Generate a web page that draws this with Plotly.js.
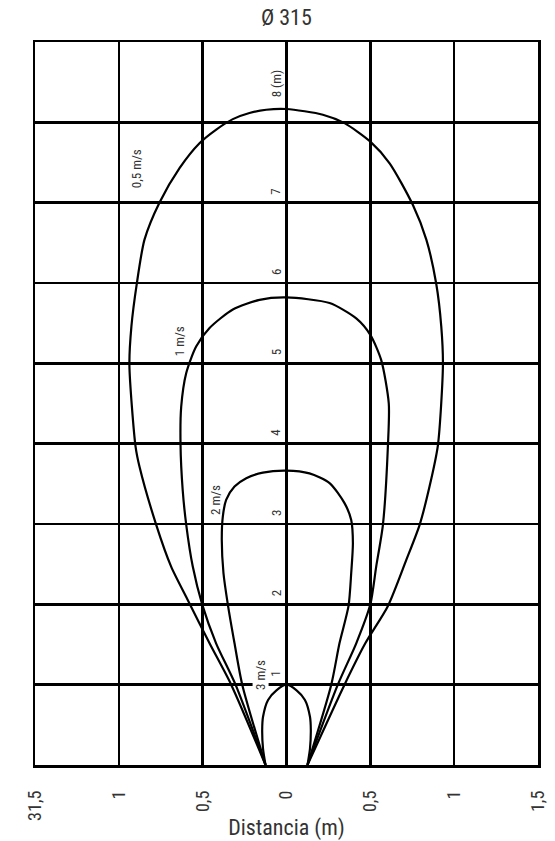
<!DOCTYPE html>
<html>
<head>
<meta charset="utf-8">
<script src="https://cdn.plot.ly/plotly-3.0.1.min.js"></script>
<style>html,body{margin:0;padding:0;background:#fff;}#chart{width:555px;height:841px;}</style>
</head>
<body>
<div id="chart"></div>
<script>
// ---- Data ----
const xTickVals = [-1.5, -1, -0.5, 0, 0.5, 1, 1.5];
const xTickText = ["31,5", "1", "0,5", "0", "0,5", "1", "1,5"];
const yLabelVals = [1, 2, 3, 4, 5, 6, 7, 8];
const yLabelText = ["1", "2", "3", "4", "5", "6", "7", "8 (m)"];

// 0,5 m/s throw contour
const v05X = [-0.125, -0.33, -0.459, -0.589, -0.688, -0.777, -0.877, -0.90, -0.937, -0.925, -0.893, -0.847, -0.758, -0.638, -0.519, -0.419, -0.32, -0.221, -0.121, 0,
              0.217, 0.346, 0.50, 0.615, 0.754, 0.834, 0.893, 0.923, 0.933, 0.903, 0.853, 0.794, 0.714, 0.605, 0.47, 0.346, 0.125];
const v05Y = [0, 1.0, 1.515, 2.055, 2.47, 2.99, 3.715, 3.96, 4.98, 5.46, 5.99, 6.54, 7.0, 7.43, 7.74, 7.91, 8.04, 8.116, 8.157, 8.166,
              8.095, 7.99, 7.76, 7.49, 6.97, 6.54, 5.99, 5.46, 4.98, 3.98, 3.466, 2.99, 2.55, 1.98, 1.515, 1.0, 0];
// 1 m/s
const v1X = [-0.125, -0.304, -0.42, -0.503, -0.559, -0.598, -0.619, -0.632, -0.628, -0.598, -0.539, -0.459, -0.32, -0.161, 0,
             0.257, 0.416, 0.50, 0.565, 0.61, 0.605, 0.575, 0.535, 0.50, 0.416, 0.306, 0.125];
const v1Y = [0, 1.0, 1.515, 2.0, 2.47, 2.99, 3.42, 3.985, 4.46, 4.88, 5.21, 5.44, 5.67, 5.79, 5.82,
             5.75, 5.56, 5.355, 5.04, 4.5, 3.98, 2.99, 2.47, 2.0, 1.515, 1.0, 0];
// 2 m/s
const v2X = [-0.125, -0.264, -0.31, -0.35, -0.376, -0.386, -0.38, -0.36, -0.31, -0.24, -0.141, 0,
             0.137, 0.257, 0.346, 0.386, 0.396, 0.386, 0.37, 0.316, 0.267, 0.125];
const v2Y = [0, 1.0, 1.515, 2.0, 2.39, 2.80, 3.09, 3.30, 3.466, 3.57, 3.64, 3.665,
             3.63, 3.51, 3.26, 3.05, 2.76, 2.39, 1.98, 1.515, 1.0, 0];
// 3 m/s
const v3X = [-0.125, -0.14, -0.145, -0.14, -0.11, -0.06, 0, 0.06, 0.11, 0.14, 0.145, 0.14, 0.125];
const v3Y = [0, 0.2, 0.44, 0.6, 0.81, 0.93, 1.0, 0.93, 0.81, 0.6, 0.44, 0.2, 0];

const curveNames = ["0,5 m/s", "1 m/s", "2 m/s", "3 m/s"];
const labelX = [-0.89, -0.638, -0.42, -0.155];
const labelY = [7.42, 5.27, 3.30, 1.115];

const FONT = "Roboto Condensed, Liberation Sans Narrow, DejaVu Sans Condensed, Arial Narrow, sans-serif";
const TXT = "#333333";

const series = [[v05X, v05Y], [v1X, v1Y], [v2X, v2Y], [v3X, v3Y]];
const traces = series.map((s, i) => ({
  type: "scatter", mode: "lines", x: s[0], y: s[1], name: curveNames[i],
  line: {color: "#000", width: 2.2, shape: "spline", smoothing: 0.7},
  hoverinfo: "skip", showlegend: false
}));

const annotations = [];
yLabelVals.forEach((v, i) => {
  annotations.push({
    x: 0, y: v, xref: "x", yref: "y", text: yLabelText[i], showarrow: false,
    textangle: -90, xanchor: "right", yanchor: "middle",
    xshift: -1, yshift: v === 8 ? 38 : 11,
    font: {family: FONT, size: 13, color: TXT}
  });
});
curveNames.forEach((n, i) => {
  annotations.push({
    x: labelX[i], y: labelY[i], xref: "x", yref: "y", text: n, showarrow: false,
    textangle: -90, xanchor: "center", yanchor: "middle",
    bgcolor: i === 3 ? "#fff" : "rgba(0,0,0,0)", borderpad: 0,
    font: {family: FONT, size: 13, color: TXT}
  });
});

const layout = {
  width: 555, height: 841,
  margin: {l: 35, r: 17, t: 42, b: 76},
  paper_bgcolor: "#fff", plot_bgcolor: "#fff",
  showlegend: false,
  title: {text: "Ø 315", x: 0.516, xanchor: "center", y: 0.979, yanchor: "middle",
          font: {family: FONT, size: 22, color: TXT}},
  xaxis: {
    range: [-1.5, 1.5], tickvals: xTickVals, ticktext: xTickText, tickangle: -90,
    ticks: "", ticklabelstandoff: 16,
    showgrid: true, gridcolor: "#000", gridwidth: 2.5,
    zeroline: true, zerolinecolor: "#000", zerolinewidth: 2.5,
    showline: true, linecolor: "#000", linewidth: 2.5, mirror: true,
    tickfont: {family: FONT, size: 18, color: TXT},
    title: {text: "Distancia (m)", font: {family: FONT, size: 22, color: TXT}, standoff: 4},
    automargin: false, fixedrange: true
  },
  yaxis: {
    range: [0, 9], dtick: 1, tick0: 0, showticklabels: false, ticks: "",
    showgrid: true, gridcolor: "#000", gridwidth: 2.5,
    zeroline: false,
    showline: true, linecolor: "#000", linewidth: 2.5, mirror: true,
    automargin: false, fixedrange: true
  },
  annotations: annotations
};

Plotly.newPlot("chart", traces, layout, {displayModeBar: false, staticPlot: true});
</script>
</body>
</html>
